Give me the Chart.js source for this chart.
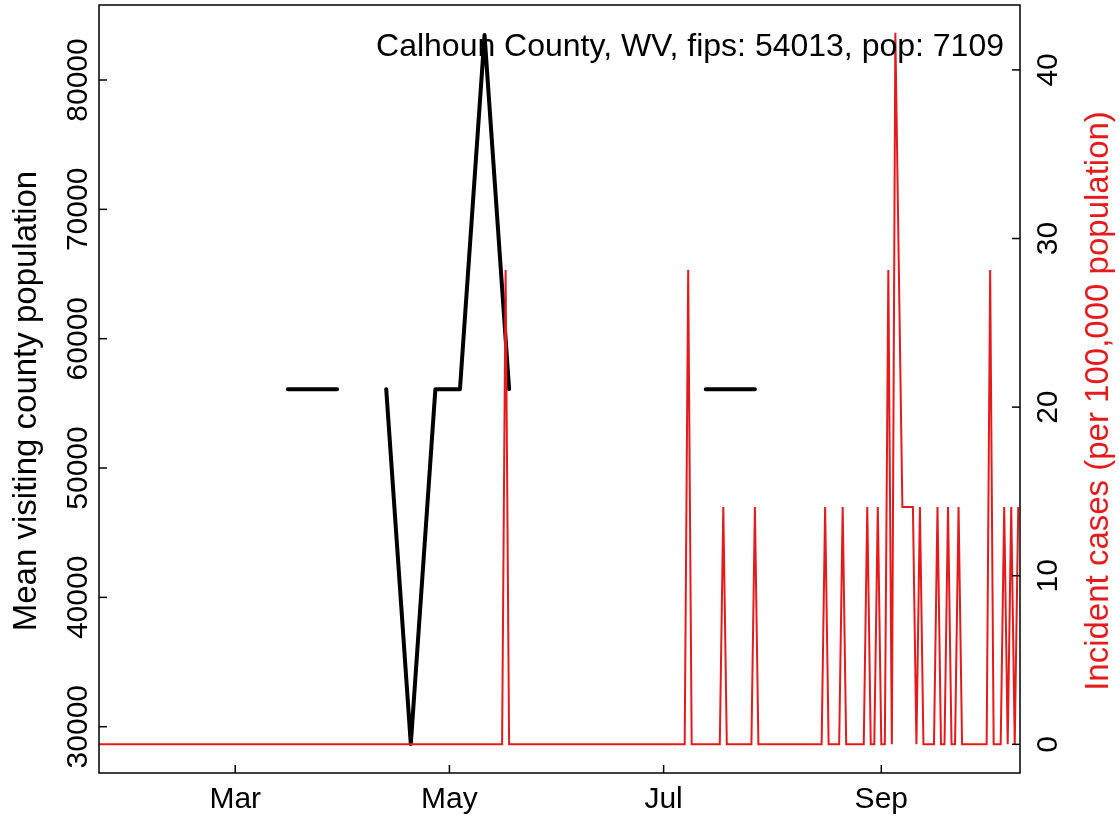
<!DOCTYPE html>
<html>
<head>
<meta charset="utf-8">
<title>Calhoun County, WV</title>
<script src="https://cdn.jsdelivr.net/npm/chart.js@4.4.1/dist/chart.umd.min.js"></script>
<style>
  html, body { margin: 0; padding: 0; background: #fff; }
  canvas { display: block; }
</style>
</head>
<body>
<canvas id="myChart" width="1119" height="822"></canvas>
<script>
// x values are day numbers of 2020 (Jan 1 = 0)
const monthTicks = [60, 121, 182, 244];
const monthLabels = ['Mar', 'May', 'Jul', 'Sep'];

// weekly mean visiting county population (null = no data)
const visitDays = [75, 82, 89, 96, 103, 110, 117, 124, 131, 138, 145, 152, 159, 166, 173, 180, 187, 194, 201, 208];
const visitValues = [56100, 56100, 56100, null, 56100, 28660, 56100, 56100, 83480, 56100,
                     null, null, null, null, null, null, null, 56100, 56100, 56100];

// daily incident cases per 100,000 - every day from firstCaseDay to lastCaseDay is 0 except these
const firstCaseDay = 21;
const lastCaseDay = 283;
const caseDays = [137, 189, 199, 208, 228, 233, 240, 243, 246, 248, 249, 250, 251, 252, 253,
                  255, 260, 263, 266, 275, 279, 281, 283];
const caseRates = [28.13, 28.13, 14.07, 14.07, 14.07, 14.07, 14.07, 14.07, 28.13, 42.2, 28.13, 14.07, 14.07, 14.07, 14.07,
                   14.07, 14.07, 14.07, 14.07, 28.13, 14.07, 14.07, 14.07];

const visitTicks = [30000, 40000, 50000, 60000, 70000, 80000];
const caseTicks = [0, 10, 20, 30, 40];

const titleText = 'Calhoun County, WV, fips: 54013, pop: 7109';
const leftTitle = 'Mean visiting county population';
const rightTitle = 'Incident cases (per 100,000 population)';

const RED = '#e41a1c';
const FAMILY = '"Liberation Sans", Arial, sans-serif';

var visitPoints = visitDays.map(function (d, i) {
    return { x: d, y: visitValues[i] };
});

var casePoints = [];
for (var d = firstCaseDay; d <= lastCaseDay; d++) {
    var k = caseDays.indexOf(d);
    casePoints.push({ x: d, y: k >= 0 ? caseRates[k] : 0 });
}

// box, inward ticks, rotated labels like base R graphics
const axisPlugin = {
    id: 'axisPlugin',
    afterDraw: function (chart) {
        const c = chart.ctx;
        const a = chart.chartArea;
        const sx = chart.scales.x, sv = chart.scales.yVisit, sc = chart.scales.yCases;
        const tick = 8;

        c.save();
        c.strokeStyle = '#000';
        c.lineWidth = 1.5;
        c.strokeRect(a.left, a.top, a.right - a.left, a.bottom - a.top);

        c.font = '30px ' + FAMILY;
        c.fillStyle = '#000';

        // bottom axis
        c.textAlign = 'center';
        c.textBaseline = 'alphabetic';
        monthTicks.forEach(function (t, i) {
            const px = sx.getPixelForValue(t);
            c.beginPath();
            c.moveTo(px, a.bottom);
            c.lineTo(px, a.bottom - tick);
            c.stroke();
            c.fillText(monthLabels[i], px, 808);
        });

        // left axis
        visitTicks.forEach(function (t) {
            const py = sv.getPixelForValue(t);
            c.beginPath();
            c.moveTo(a.left, py);
            c.lineTo(a.left + tick, py);
            c.stroke();
            c.save();
            c.translate(87, py);
            c.rotate(-Math.PI / 2);
            c.fillText(String(t), 0, 0);
            c.restore();
        });

        // right axis
        caseTicks.forEach(function (t) {
            const py = sc.getPixelForValue(t);
            c.beginPath();
            c.moveTo(a.right, py);
            c.lineTo(a.right - tick, py);
            c.stroke();
            c.save();
            c.translate(1057, py);
            c.rotate(-Math.PI / 2);
            c.fillText(String(t), 0, 0);
            c.restore();
        });

        const midY = 401;
        c.font = '33px ' + FAMILY;
        c.save();
        c.translate(36, midY);
        c.rotate(-Math.PI / 2);
        c.fillText(leftTitle, 0, 0);
        c.restore();

        c.save();
        c.fillStyle = RED;
        c.translate(1108, midY);
        c.rotate(-Math.PI / 2);
        c.fillText(rightTitle, 0, 0);
        c.restore();

        c.font = '32px ' + FAMILY;
        c.textAlign = 'right';
        c.fillText(titleText, 1004, 56);
        c.restore();
    }
};

const ctx = document.getElementById('myChart');

new Chart(ctx, {
    type: 'line',
    data: {
        datasets: [
            {
                label: 'Incident cases',
                data: casePoints,
                yAxisID: 'yCases',
                borderColor: RED,
                borderWidth: 2,
                pointRadius: 0,
                tension: 0,
                order: 1
            },
            {
                label: 'Mean visiting county population',
                data: visitPoints,
                yAxisID: 'yVisit',
                borderColor: '#000',
                borderWidth: 4,
                pointRadius: 0,
                tension: 0,
                spanGaps: false,
                borderCapStyle: 'round',
                borderJoinStyle: 'round',
                order: 2
            }
        ]
    },
    options: {
        responsive: false,
        animation: false,
        devicePixelRatio: 1,
        layout: { padding: { left: 99, top: 5, right: 99, bottom: 49 } },
        plugins: {
            legend: { display: false },
            tooltip: { enabled: false }
        },
        scales: {
            x: { type: 'linear', display: false, min: 21.2, max: 283.5 },
            yVisit: { type: 'linear', display: false, min: 26420, max: 85800 },
            yCases: { type: 'linear', display: false, min: -1.7, max: 43.85 }
        }
    },
    plugins: [axisPlugin]
});
</script>
</body>
</html>
